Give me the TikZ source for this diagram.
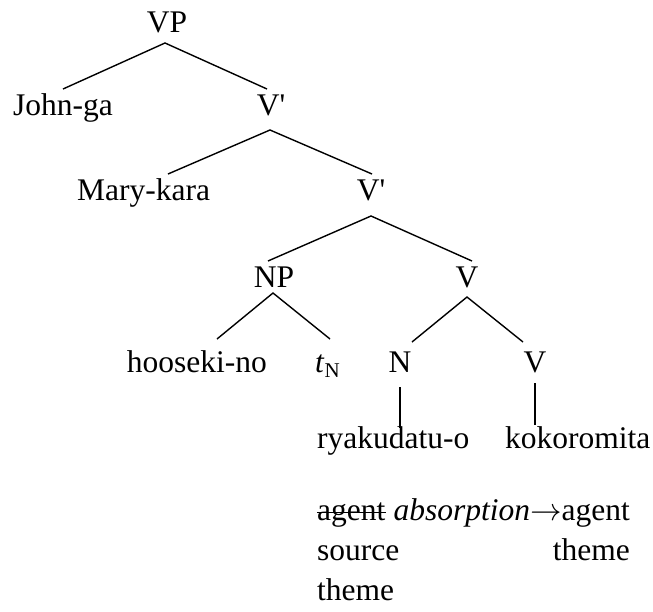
\RequirePackage{fix-cm}
\documentclass[tikz,border=0pt]{standalone}
\usepackage{fontspec}
\setmainfont{Liberation Serif}
\newcommand\sq{\XeTeXglyph\XeTeXcharglyph"27\relax}
\begin{document}
\begin{tikzpicture}[x=1pt,y=-1pt,
  every node/.style={inner sep=0pt,font=\fontsize{31.5}{40}\selectfont},
  lab/.style={anchor=base},
  labw/.style={anchor=base west},
  labe/.style={anchor=base east},
  branch/.style={line width=1.4pt},
  strike/.style={line width=1.3pt}]
\useasboundingbox (0,0) rectangle (653,611);
% labels
\node[lab]  (VP)   at (167,32)  {VP};
\node[labw] (john) at (13,115)  {John-ga};
\node[lab]  (V1)   at (271,115) {V\sq};
\node[labw] (mary) at (77,200)  {Mary-kara};
\node[lab]  (V2)   at (371,200) {V\sq};
\node[lab]  (NP)   at (274,287) {NP};
\node[lab]  (Vc)   at (467,287) {V};
\node[labe] (hoo)  at (267,372) {hooseki-no};
\node[labw] (tN)   at (315,372) {\textit{t}\raisebox{-5pt}{\fontsize{21}{21}\selectfont N}};
\node[lab]  (N)    at (400,372) {N};
\node[lab]  (Vd)   at (535,372) {V};
\node[labw] (rya)  at (317,448) {ryakudatu-o};
\node[labw] (koko) at (505,448) {kokoromita};
\node[labw] (ag)   at (317,520) {agent};
\node[labw] (abs)  at ([xshift=7.9pt]ag.base east) {\textit{absorption}$\rightarrow$agent};
\node[labw] (src)  at (317,560) {source};
\node[labe] (th1)  at (630,560) {theme};
\node[labw] (th2)  at (317,600) {theme};
% strike-through
\draw[strike] ([yshift=7.5pt]ag.base west) -- ([yshift=7.5pt]ag.base east);
% branch points
\coordinate (aVP) at (165,43);
\coordinate (eJ)  at (63,89);
\coordinate (eV1) at (267,89);
\coordinate (aV1) at (270,130);
\coordinate (eM)  at (168,174);
\coordinate (eV2) at (372,174);
\coordinate (aV2) at (371,216);
\coordinate (eNP) at (268,261);
\coordinate (eVc) at (472,261);
\coordinate (aNP) at (273,293);
\coordinate (eH)  at (217,339);
\coordinate (eT)  at (330,339);
\coordinate (aVc) at (467,297);
\coordinate (eN)  at (412,342);
\coordinate (eVd) at (523,342);
\coordinate (aN)  at (400,387);
\coordinate (eR)  at (400,428);
\coordinate (aVd) at (535,383);
\coordinate (eK)  at (535,425);
% branches
\draw[branch] (eJ) -- (aVP) -- (eV1);
\draw[branch] (eM) -- (aV1) -- (eV2);
\draw[branch] (eNP) -- (aV2) -- (eVc);
\draw[branch] (eH) -- (aNP) -- (eT);
\draw[branch] (eN) -- (aVc) -- (eVd);
\draw[branch] (aN) -- (eR);
\draw[branch] (aVd) -- (eK);
\end{tikzpicture}
\end{document}
